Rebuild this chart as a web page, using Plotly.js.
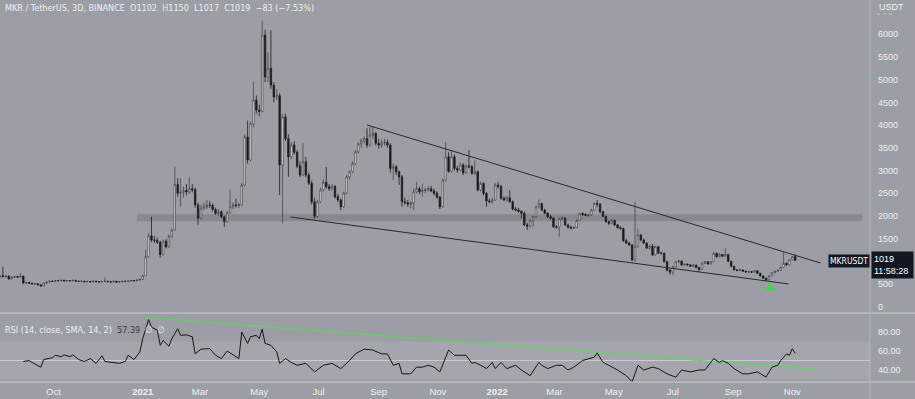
<!DOCTYPE html>
<html><head><meta charset="utf-8">
<script src="https://cdn.plot.ly/plotly-3.0.1.min.js"></script>
<style>html,body{margin:0;padding:0;background:#9b9ea5;}#chart{width:915px;height:399px;}</style>
</head><body><div id="chart"></div>
<script>
// ---- data (3D candles, MKR/USDT, Binance) ----
const startDate = '2020-08-07';
const stepDays = 3;
const openP = [650,680,660,670,610,650,660,650,670,520,530,515,500,505,480,455,520,540,560,555,575,570,580,565,575,570,580,560,555,560,550,555,545,560,550,545,555,560,550,545,560,540,545,560,555,565,575,570,585,600,
680,1100,1560,1470,1460,1420,1150,1440,1320,1550,1690,2690,2500,2520,2560,2530,2600,2580,2240,1950,2170,2200,2240,2230,2140,2055,2090,1980,1870,2070,2200,2240,2230,2240,2680,3740,3230,4030,4550,4330,
4300,5980,5060,5250,4880,4620,4650,3120,4180,3700,3300,3560,3400,3100,2900,3190,2900,2720,2310,1990,2310,2570,2740,2640,2600,2650,2420,2350,2200,2500,2860,2970,3150,3410,3590,3650,3705,3560,3780,3815,
3600,3560,3600,3620,3560,3045,3080,2970,2860,2310,2290,2260,2280,2530,2600,2530,2560,2570,2600,2550,2500,2410,2200,2790,3300,2980,3300,3045,3010,3120,2950,3100,3080,2940,2970,2570,2715,2495,2330,2310,
2350,2680,2650,2390,2350,2400,2310,2150,2130,2100,2060,1800,1770,1900,1980,2200,2270,2130,2060,1980,1950,1760,1750,1940,1950,1800,1750,1730,1740,1900,2050,2030,2010,2020,2128,2275,2260,2090,1990,1871,
1840,1900,1800,1740,1720,1450,1400,1360,1030,1320,1578,1470,1400,1290,1330,1140,1320,1180,1175,992,800,760,880,990,1000,920,935,920,890,915,860,820,960,990,940,990,1175,1100,1150,1110,
1150,1000,890,810,800,810,780,765,770,760,790,735,676,625,590,676,750,780,800,865,955,920,1030,1102];
const highP = [700,880,690,690,665,675,680,740,680,545,545,530,520,515,490,530,550,575,580,590,590,595,590,585,585,595,590,570,575,570,565,565,570,570,560,565,640,570,560,575,565,555,570,570,580,590,585,600,615,700,
1250,1620,1980,1560,1520,1450,1480,1490,1580,1720,3080,2830,2830,2650,2700,2860,2700,2620,2290,2250,2300,2350,2320,2270,2180,2150,2120,2010,2100,2580,2300,2380,2290,2720,3800,4100,4080,4950,4650,4450,
6300,6100,5600,6090,4950,4800,4700,4250,4250,3800,3620,3650,3450,3200,3600,3300,2950,2780,2400,2350,2620,2800,3080,2700,2700,2680,2480,2380,2530,2900,3000,3200,3450,3620,3700,3750,3930,3960,3980,3850,
3700,3680,3700,3680,3600,3150,3120,3000,2900,2400,2350,2320,2600,2750,2640,2710,2620,2650,2660,2600,2540,2440,2820,3630,3400,3450,3350,3100,3180,3160,3130,3450,3120,3230,3000,2760,2740,2520,2380,2400,
2720,2750,2680,2430,2440,2570,2340,2200,2180,2120,2090,1850,1920,2000,2220,2360,2290,2150,2080,2020,1970,1800,1960,1990,1970,1830,1780,1770,1920,2070,2080,2060,2050,2150,2300,2350,2280,2110,2010,1900,
1930,1920,1820,1770,1740,1500,1430,1380,2310,1720,1600,1500,1420,1360,1380,1340,1340,1210,1190,1010,830,900,1000,1030,1020,950,950,935,930,925,880,970,1000,1000,1000,1210,1190,1180,1160,1285,
1160,1010,900,830,830,820,790,790,780,800,800,745,690,640,690,760,790,810,880,1200,975,1040,1115,1150];
const lowP = [630,650,640,600,600,635,640,640,505,500,505,490,485,470,440,450,510,530,545,550,560,565,555,560,560,565,550,545,550,540,540,535,540,540,535,540,545,540,535,540,530,530,540,545,550,560,560,565,575,590,
670,1080,1420,1400,1380,1080,1120,1280,1300,1520,1680,2420,2200,2400,2450,2480,2520,2180,1800,1920,2120,2150,2170,2100,2020,2000,1950,1760,1850,2050,2150,2180,2180,2220,2650,3150,3200,3950,4250,4200,
4280,4950,4950,4800,4500,4550,2460,1835,3650,2860,3250,3350,3050,2850,2880,2850,2680,2250,1930,1960,2280,2540,2600,2550,2560,2380,2300,2130,2180,2480,2800,2940,3120,3380,3500,3600,3500,3520,3700,3550,
3480,3500,3550,3500,2950,2790,2900,2680,2200,2250,2200,2160,2130,2500,2480,2420,2500,2540,2520,2450,2380,2150,2180,2760,2950,2950,3000,2950,2980,2900,2920,3050,2900,2900,2540,2540,2450,2200,2280,2270,
2330,2600,2360,2320,2320,2290,2120,2100,2070,1950,1780,1690,1750,1760,1960,2180,2100,2040,1950,1920,1740,1720,1540,1900,1780,1720,1700,1710,1730,1890,2000,1990,1980,2000,2110,2200,2060,1970,1850,1800,
1820,1780,1720,1700,1430,1380,1340,1000,990,1300,1440,1380,1270,1260,1120,1120,1160,1150,970,780,700,700,860,960,900,900,900,870,870,840,772,810,940,920,930,980,1080,1090,1090,1100,
980,870,800,780,790,770,750,750,745,750,725,665,615,565,585,670,740,770,790,850,900,910,1020,1017];
const closeP = [680,660,670,610,650,660,650,670,520,530,515,500,505,480,455,520,540,560,555,575,570,580,565,575,570,580,560,555,560,550,555,545,560,550,545,555,560,550,545,560,540,545,560,555,565,575,570,585,600,680,
1100,1560,1470,1460,1420,1150,1440,1320,1550,1690,2690,2500,2520,2560,2530,2600,2580,2240,1950,2170,2200,2240,2230,2140,2055,2090,1980,1870,2070,2200,2240,2230,2240,2680,3740,3230,4030,4550,4330,4300,
5980,5060,5250,4880,4620,4650,3120,4180,3700,3300,3560,3400,3100,2900,3190,2900,2720,2310,1990,2310,2570,2740,2640,2600,2650,2420,2350,2200,2500,2860,2970,3150,3410,3590,3650,3705,3560,3780,3815,3600,
3560,3600,3620,3560,3045,3080,2970,2860,2310,2290,2260,2280,2530,2600,2530,2560,2570,2600,2550,2500,2410,2200,2790,3300,2980,3300,3045,3010,3120,2950,3100,3080,2940,2970,2570,2715,2495,2330,2310,2350,
2680,2650,2390,2350,2400,2310,2150,2130,2100,2060,1800,1770,1900,1980,2200,2270,2130,2060,1980,1950,1760,1750,1940,1950,1800,1750,1730,1740,1900,2050,2030,2010,2020,2128,2275,2260,2090,1990,1871,1840,
1900,1800,1740,1720,1450,1400,1360,1030,1320,1578,1470,1400,1290,1330,1140,1320,1180,1175,992,800,760,880,990,1000,920,935,920,890,915,860,820,960,990,940,990,1175,1100,1150,1110,1150,
1000,890,810,800,810,780,765,770,760,790,735,676,625,590,676,750,780,800,865,955,920,1030,1102,1019];

const rsiIdx = [8,10,11,14,15,18,19,21,22,24,25,27,29,31,33,35,36,38,41,43,44,46,48,49,51,52,54,55,56,58,59,61,62,64,66,67,69,72,74,76,78,80,82,83,85,86,88,89,90,91,93,95,96,98,100,102,105,108,111,114,117,120,122,125,128,131,133,135,137,138,141,143,145,147,149,151,153,154,156,158,160,162,163,165,167,169,170,172,174,177,179,182,185,186,188,191,193,195,197,200,202,204,205,207,209,212,215,217,219,221,224,226,229,232,234,237,240,242,245,247,248,250,252,255,257,260,263,265,267,268,270,271,272,273];
const rsiVal = [49,50,48,43,51,53,55.5,54,56,54,56,51,49,52,47,55,49,48,47,49,55.5,51,59,73,93,85,82,66,71,65,73,83.5,76.5,77,75,57,62,62.5,55.5,52,60,56,52,80,68,75,76.5,73,83,68,66,59,47,52,48,45,47,38,45,47,41.5,50,57,62,61,57,57,45,47,36,36,43,43,45,43,38,53.5,61,55.5,55.5,55.5,47,48,45,41.5,48,41.5,48,41.5,45,40,34,48,45,41.5,45,45,40,43,50,52,53.5,58,48,45,40,34,27.5,45,40,43,41.5,36,32.5,40,38,40,40,52,48,50,47,41.5,36,36,38,32.5,43,45,50,57,55.5,62.5,57.39];

const tickDates = ['2020-10-01','2021-01-01','2021-03-01','2021-05-01','2021-07-01','2021-09-01','2021-11-01','2022-01-01','2022-03-01','2022-05-01','2022-07-01','2022-09-01','2022-11-01'];
const tickLabels = ['Oct','<b>2021</b>','Mar','May','Jul','Sep','Nov','<b>2022</b>','Mar','May','Jul','Sep','Nov'];
// 1000 is hidden behind the last-price label in the reference
const priceTicks = [0,500,1500,2000,2500,3000,3500,4000,4500,5000,5500,6000];
const rsiTicks = [40,60,80];

const upperTrendX = ['2021-08-20','2022-11-30'], upperTrendY = [4002, 962];
const lowerTrendX = ['2021-06-02','2022-10-28'], lowerTrendY = [1975, 500];
const rsiTrendX = ['2021-01-02','2022-11-25'], rsiTrendY = [95.5, 40.5];
const zoneX = ['2020-12-26','2023-01-12'], zoneY = [1881, 2035];
const signalX = ['2022-10-09'], signalY = [411];

// ---- build ----
function addDays(s, n){const d=new Date(s+'T00:00:00Z');d.setUTCDate(d.getUTCDate()+n);return d.toISOString().slice(0,10);}
const dates = closeP.map((_,i)=>addDays(startDate, i*stepDays));
const rsiDates = rsiIdx.map(i=>dates[i]);

const FONT = '"Liberation Sans", Arial, sans-serif';
const NARROW = '"Liberation Sans Narrow", "DejaVu Sans Condensed", Arial, sans-serif';
const TXT = '#eef0f3';
const BG = '#9b9ea5';
const split = (382-313)/382;

const traces = [
 {type:'candlestick', x:dates, open:openP, high:highP, low:lowP, close:closeP, xaxis:'x', yaxis:'y',
  increasing:{line:{color:'#2a2a2e',width:0.6}, fillcolor:'#ffffff'},
  decreasing:{line:{color:'#1c1c1f',width:0.8}, fillcolor:'#1c1c1f'},
  whiskerwidth:0, hoverinfo:'skip', showlegend:false},
 {type:'scatter', mode:'lines', x:upperTrendX, y:upperTrendY, yaxis:'y', line:{color:'#2a2a2e',width:1}, hoverinfo:'skip', showlegend:false},
 {type:'scatter', mode:'lines', x:lowerTrendX, y:lowerTrendY, yaxis:'y', line:{color:'#2a2a2e',width:1}, hoverinfo:'skip', showlegend:false},
 {type:'scatter', mode:'markers', x:signalX, y:signalY, yaxis:'y', marker:{symbol:'triangle-up',size:9,color:'#33e033'}, hoverinfo:'skip', showlegend:false},
 {type:'scatter', mode:'lines', x:rsiTrendX, y:rsiTrendY, yaxis:'y2', line:{color:'#4ee04e',width:1}, hoverinfo:'skip', showlegend:false},
 {type:'scatter', mode:'lines', x:rsiDates, y:rsiVal, yaxis:'y2', line:{color:'#151518',width:1}, hoverinfo:'skip', showlegend:false}
];

const layout = {
 width:915, height:399, paper_bgcolor:BG, plot_bgcolor:BG,
 margin:{l:0,r:45,t:0,b:17},
 font:{family:FONT, size:9, color:TXT},
 showlegend:false,
 xaxis:{type:'date', range:['2020-08-07','2023-01-20'], anchor:'y2', tickvals:tickDates, ticktext:tickLabels,
   showgrid:false, zeroline:false, showline:false, ticks:'', tickfont:{size:9.5,color:TXT,family:FONT}, rangeslider:{visible:false}, fixedrange:true, ticklabelstandoff:2},
 yaxis:{domain:[split,1], side:'right', range:[-140,6756], tickvals:priceTicks, showgrid:false, zeroline:false, showline:false,
   ticks:'', tickfont:{size:9,color:TXT,family:FONT}, fixedrange:true, ticklabelstandoff:7},
 yaxis2:{domain:[0,split], side:'right', range:[27.4,100], tickvals:rsiTicks, tickformat:'.2f', showgrid:false, zeroline:false, showline:false,
   ticks:'', tickfont:{size:9,color:TXT,family:FONT}, fixedrange:true, ticklabelstandoff:7},
 shapes:[
  {type:'rect', xref:'x', yref:'y', x0:zoneX[0], x1:zoneX[1], y0:zoneY[0], y1:zoneY[1], fillcolor:'rgba(95,97,104,0.35)', line:{width:0}, layer:'below'},
  {type:'rect', xref:'paper', yref:'y2', x0:0, x1:1, y0:30, y1:70, fillcolor:'rgba(255,255,255,0.09)', line:{width:0}, layer:'below'},
  {type:'line', xref:'paper', yref:'y2', x0:0, x1:1, y0:50, y1:50, line:{color:'rgba(235,236,240,0.55)',width:1}, layer:'below'},
  {type:'line', xref:'paper', yref:'paper', x0:0, x1:915/870, y0:split, y1:split, line:{color:'#c9cbd0',width:1.2}},
  {type:'line', xref:'paper', yref:'paper', x0:0, x1:915/870, y0:0, y1:0, line:{color:'#c9cbd0',width:1.2}},
  {type:'line', xref:'paper', yref:'paper', x0:1, x1:1, y0:-17/382, y1:1, line:{color:'#b4b6bc',width:1}},
  {type:'line', xref:'paper', yref:'paper', x0:877/870, x1:895/870, y0:(382-14)/382, y1:(382-14)/382, line:{color:'#c4c6cb',width:1,dash:'dot'}}
 ],
 annotations:[
  {xref:'paper', yref:'paper', x:3/870, y:(382-8)/382, xanchor:'left', yanchor:'middle', showarrow:false,
   text:'MKR / TetherUS, 3D, BINANCE\u00a0\u00a0O1102\u00a0\u00a0H1150\u00a0\u00a0L1017\u00a0\u00a0C1019\u00a0\u00a0\u221283 (\u22127.53%)', font:{size:9,color:TXT,family:NARROW}},
  {xref:'paper', yref:'paper', x:3/870, y:(382-330)/382, xanchor:'left', yanchor:'middle', showarrow:false,
   text:'RSI (14, close, SMA, 14, 2)\u00a0\u00a0<span style="color:#3a3a40">57.39</span>\u00a0\u00a0\u2205\u00a0\u00a0\u2205', font:{size:9,color:TXT,family:NARROW}},
  {xref:'paper', yref:'paper', x:877/870, y:(382-7)/382, xanchor:'left', yanchor:'middle', showarrow:false, text:'USDT', font:{size:9,color:TXT,family:FONT}},
  {xref:'paper', yref:'paper', x:849/870, y:(382-260.5)/382, xanchor:'center', yanchor:'middle', showarrow:false, text:'MKRUSDT',
   bgcolor:'#131722', borderpad:1, font:{size:8.5,color:'#ffffff',family:NARROW}},
  {xref:'paper', yref:'paper', x:871/870, y:(382-265)/382, xanchor:'left', yanchor:'middle', showarrow:false, text:'1019<br>11:58:28', align:'left',
   bgcolor:'#131722', borderpad:2, width:37, font:{size:9,color:'#ffffff',family:FONT}}
 ]
};
Plotly.newPlot('chart', traces, layout, {staticPlot:true, displayModeBar:false});
</script>
</body></html>
